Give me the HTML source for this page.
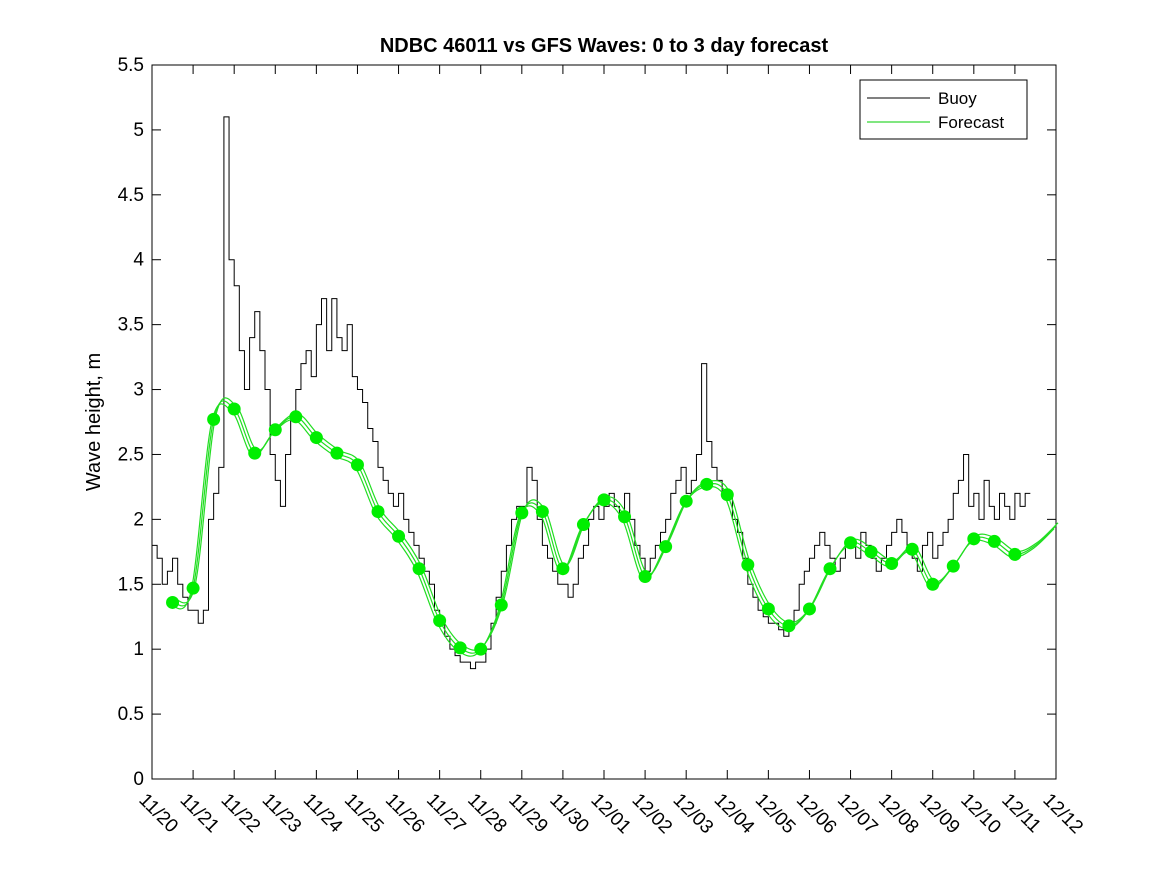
<!DOCTYPE html>
<html><head><meta charset="utf-8"><style>
body{margin:0;background:#fff;}
svg text{font-family:"Liberation Sans","DejaVu Sans",sans-serif;}
</style></head><body>
<svg id="chart" width="1167" height="875" xmlns="http://www.w3.org/2000/svg">
<rect width="1167" height="875" fill="#fff"/>
<text x="604" y="52" text-anchor="middle" font-size="20" font-weight="bold">NDBC 46011 vs GFS Waves: 0 to 3 day forecast</text>
<text transform="translate(100,422) rotate(-90)" text-anchor="middle" font-size="20">Wave height, m</text>
<g id="axes"></g>
<g id="plot"></g>
<g>
<rect x="860" y="80" width="167" height="59" fill="#fff" stroke="#000" stroke-width="1"/>
<line x1="867" y1="98" x2="930" y2="98" stroke="#000" stroke-width="1"/>
<text x="938" y="104" font-size="17">Buoy</text>
<line x1="867" y1="122" x2="930" y2="122" stroke="#0c0" stroke-width="1"/>
<text x="938" y="128" font-size="17">Forecast</text>
</g>
</svg>
<script>
const xLabels=["11/20","11/21","11/22","11/23","11/24","11/25","11/26","11/27","11/28","11/29","11/30","12/01","12/02","12/03","12/04","12/05","12/06","12/07","12/08","12/09","12/10","12/11","12/12"];
const yTicks=[0,0.5,1,1.5,2,2.5,3,3.5,4,4.5,5,5.5];
// buoy values every 3 hours starting 11/20 00:00
const buoy=[1.8,1.7,1.5,1.6,1.7,1.5,1.4,1.3,
1.3,1.2,1.3,2.0,2.2,2.4,5.1,4.0,
3.8,3.3,3.0,3.4,3.6,3.3,3.0,2.5,
2.3,2.1,2.5,2.8,3.0,3.2,3.3,3.1,
3.5,3.7,3.3,3.7,3.4,3.3,3.5,3.1,
3.0,2.9,2.7,2.6,2.4,2.3,2.2,2.1,
2.2,2.0,1.9,1.8,1.7,1.6,1.5,1.3,
1.2,1.1,1.0,0.95,0.9,0.9,0.85,0.9,
0.9,1.0,1.2,1.4,1.6,1.8,2.0,2.1,
2.1,2.4,2.3,2.0,1.8,1.7,1.6,1.5,
1.5,1.4,1.5,1.7,1.8,2.0,2.1,2.0,
2.1,2.2,2.1,2.0,2.2,2.0,1.8,1.7,
1.6,1.7,1.8,1.9,2.0,2.2,2.3,2.4,
2.2,2.3,2.5,3.2,2.6,2.4,2.3,2.2,
2.2,2.0,1.9,1.7,1.5,1.4,1.3,1.25,
1.2,1.2,1.15,1.1,1.2,1.3,1.5,1.6,
1.7,1.8,1.9,1.8,1.7,1.6,1.7,1.8,
1.8,1.7,1.9,1.8,1.7,1.6,1.7,1.8,
1.9,2.0,1.9,1.8,1.7,1.6,1.8,1.9,
1.7,1.8,1.9,2.0,2.2,2.3,2.5,2.1,
2.2,2.0,2.3,2.1,2.0,2.2,2.1,2.0,
2.2,2.1,2.2];
const fcDays=[0.5,1,1.5,2,2.5,3,3.5,4,4.5,5,5.5,6,6.5,7,7.5,8,8.5,9,9.5,10,10.5,11,11.5,12,12.5,13,13.5,14,14.5,15,15.5,16,16.5,17,17.5,18,18.5,19,19.5,20,20.5,21];
const fcVals=[1.36,1.47,2.77,2.85,2.51,2.69,2.79,2.63,2.51,2.42,2.06,1.87,1.62,1.22,1.01,1.00,1.34,2.05,2.06,1.62,1.96,2.15,2.02,1.56,1.79,2.14,2.27,2.19,1.65,1.31,1.18,1.31,1.62,1.82,1.75,1.66,1.77,1.50,1.64,1.85,1.83,1.73];
const tailDays=[21.5,22];
const tailVals=[1.8,1.95];

const X0=152,X1=1056,Y0=779,Y1=65;
const xs=d=>X0+(X1-X0)*d/22;
const ys=v=>Y0-(Y0-Y1)*v/5.5;
const NS="http://www.w3.org/2000/svg";
const axes=document.getElementById('axes'),plot=document.getElementById('plot');
function mk(tag,attrs,parent){const e=document.createElementNS(NS,tag);for(const k in attrs)e.setAttribute(k,attrs[k]);parent.appendChild(e);return e;}
const fr=mk('rect',{x:X0,y:Y1,width:X1-X0,height:Y0-Y1,fill:'none',stroke:'#000','stroke-width':1},axes);


yTicks.forEach(v=>{const y=ys(v);
mk('line',{x1:X0,y1:y,x2:X0+9,y2:y,stroke:'#000'},axes);
mk('line',{x1:X1,y1:y,x2:X1-9,y2:y,stroke:'#000'},axes);
const t=mk('text',{x:X0-8,y:y+6,'text-anchor':'end','font-size':19},axes);t.textContent=v;

});
xLabels.forEach((s,i)=>{const x=xs(i);
mk('line',{x1:x,y1:Y0,x2:x,y2:Y0-9,stroke:'#000'},axes);
mk('line',{x1:x,y1:Y1,x2:x,y2:Y1+9,stroke:'#000'},axes);
const t=mk('text',{transform:`translate(${x-14},${Y0+22}) rotate(45)`,'font-size':19},axes);t.textContent=s;

});
let d='';buoy.forEach((v,i)=>{const x=xs(i/8),x2=xs((i+1)/8);d+=(i?'L':'M')+x+','+ys(v)+'L'+x2+','+ys(v);});
const bl=mk('path',{d:d,fill:'none',stroke:'#000','stroke-width':1},plot);


const px=fcDays.concat(tailDays).map(xs),py=fcVals.concat(tailVals).map(ys);
function spline(ox,oy){let s='M'+(px[0]+ox)+','+(py[0]+oy);for(let i=0;i<px.length-1;i++){const p0=i?i-1:i,p3=i+2<px.length?i+2:i+1;
const c1x=px[i]+(px[i+1]-px[p0])/6,c1y=py[i]+(py[i+1]-py[p0])/6,c2x=px[i+1]-(px[p3]-px[i])/6,c2y=py[i+1]-(py[p3]-py[i])/6;
s+=`C${c1x+ox},${c1y+oy} ${c2x+ox},${c2y+oy} ${px[i+1]+ox},${py[i+1]+oy}`;}return s;}
[[-2,3],[2,-3],[0,0]].forEach(o=>{const l=mk('path',{d:spline(o[0],o[1]),fill:'none',stroke:'#22dd22','stroke-width':1.2},plot);

});
fcDays.forEach((dd,i)=>{const c=mk('circle',{cx:xs(dd),cy:ys(fcVals[i]),r:6.5,fill:'#00ee00'},plot);

});
</script>
</body></html>
